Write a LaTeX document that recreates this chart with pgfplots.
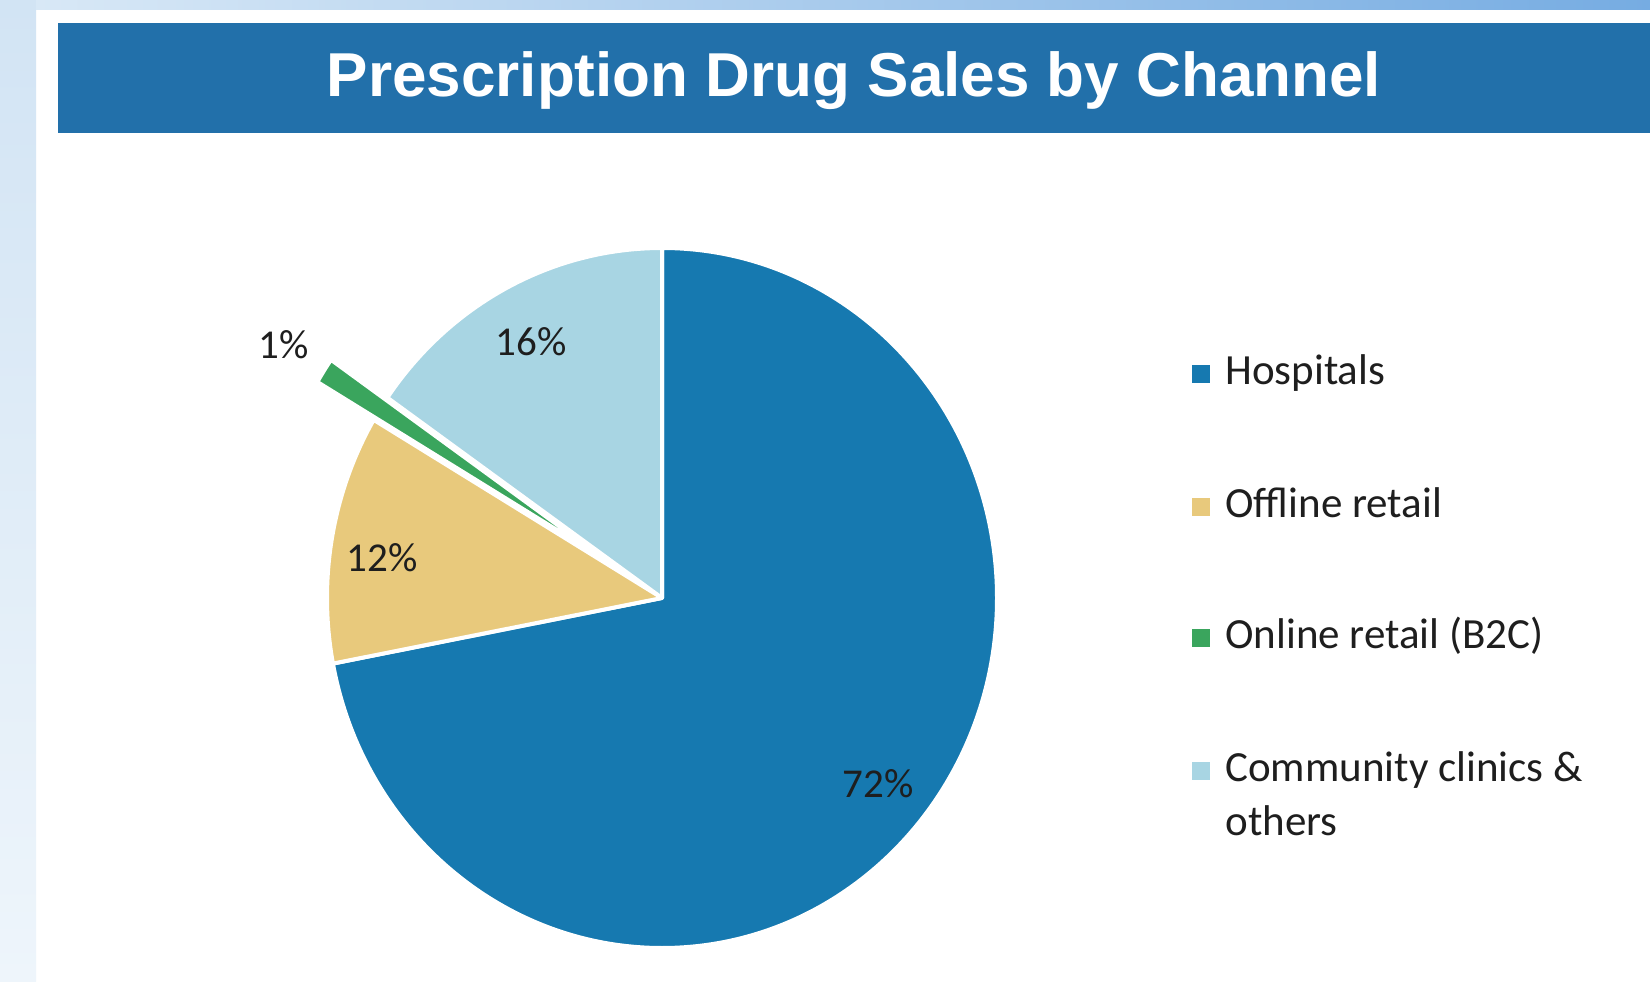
\documentclass[border=0pt]{standalone}
\usepackage{fontspec}
\setmainfont{Carlito}
\newfontfamily\titlefont{Liberation Sans}
\usepackage{pgfplots}
\usepackage{pgfplotstable}
\pgfplotsset{compat=1.18}

\definecolor{hosp}{HTML}{1679B0}
\definecolor{offl}{HTML}{E8C97C}
\definecolor{onl}{HTML}{3AA55D}
\definecolor{comm}{HTML}{A8D5E3}
\definecolor{barblue}{HTML}{2270AA}
\definecolor{txt}{HTML}{1E1E1E}
\definecolor{stripA}{HTML}{D2E4F4}
\definecolor{stripB}{HTML}{EEF5FB}
\definecolor{topA}{HTML}{D8E8F6}
\definecolor{topB}{HTML}{76ACE2}

% share of prescription drug sales, clockwise from 12 o'clock
\pgfplotstableread{
name value col explode
Hospitals 72.0 hosp 0
Offline 11.5 offl 0
Online 1.2 onl 0.2
Community 15.3 comm 0
}\piedata

\begin{document}
\begin{tikzpicture}
\begin{axis}[
  width=825pt, height=490.5pt, scale only axis,
  xmin=0, xmax=1650, ymin=0, ymax=981,
  enlargelimits=false, hide axis, clip=false,
]
% page background
\fill[white] (axis cs:0,0) rectangle (axis cs:1650,981);
\shade[top color=stripA, bottom color=stripB] (axis cs:0,0) rectangle (axis cs:36,981);
\shade[left color=topA, right color=topB] (axis cs:36,971) rectangle (axis cs:1650,981);

% title bar
\fill[barblue] (axis cs:58,848) rectangle (axis cs:1650,958);
\node[anchor=base, text=white, font=\titlefont\bfseries\fontsize{31}{36}\selectfont]
  at (axis cs:854,884) {Prescription Drug Sales by Channel};

% slices
\def\cum{0}
\pgfplotsforeachungrouped \i in {0,1,2,3}{%
  \pgfplotstablegetelem{\i}{value}\of\piedata \let\sval\pgfplotsretval
  \pgfplotstablegetelem{\i}{col}\of\piedata \let\scol\pgfplotsretval
  \pgfplotstablegetelem{\i}{explode}\of\piedata \let\sexp\pgfplotsretval
  \pgfmathsetmacro\sa{90-3.6*\cum}
  \pgfmathsetmacro\sb{90-3.6*(\cum+\sval)}
  \pgfmathsetmacro\sm{(\sa+\sb)/2}
  \pgfmathsetmacro\scx{662+\sexp*335*cos(\sm)}
  \pgfmathsetmacro\scy{383+\sexp*350*sin(\sm)}
  \edef\doslice{\noexpand\fill[fill=\scol, draw=white, line width=2pt, line join=round]
    (axis cs:\scx,\scy) -- ++(\sa:167.5pt and 175pt)
    arc[start angle=\sa, end angle=\sb, x radius=167.5pt, y radius=175pt] -- cycle;}%
  \doslice
  \pgfmathsetmacro\cum{\cum+\sval}%
}

% slice labels
\begin{scope}[every node/.style={text=txt, font=\fontsize{20.5}{24}\selectfont}]
\node at (axis cs:878,197) {72\%};
\node at (axis cs:382,423) {12\%};
\node at (axis cs:284,636) {1\%};
\node at (axis cs:531,639) {16\%};
\end{scope}

% legend
\begin{scope}[every node/.style={text=txt, anchor=base west, inner sep=0pt, font=\fontsize{21.5}{26}\selectfont}]
\fill[hosp] (axis cs:1192,598) rectangle (axis cs:1210,616);
\node at (axis cs:1225,596) {Hospitals};
\fill[offl] (axis cs:1192,465) rectangle (axis cs:1210,483);
\node at (axis cs:1225,463) {Offline retail};
\fill[onl] (axis cs:1192,334) rectangle (axis cs:1210,352);
\node at (axis cs:1225,332) {Online retail (B2C)};
\fill[comm] (axis cs:1192,201) rectangle (axis cs:1210,219);
\node at (axis cs:1225,199) {Community clinics \&};
\node at (axis cs:1225,146) {others};
\end{scope}
\end{axis}
\end{tikzpicture}
\end{document}
